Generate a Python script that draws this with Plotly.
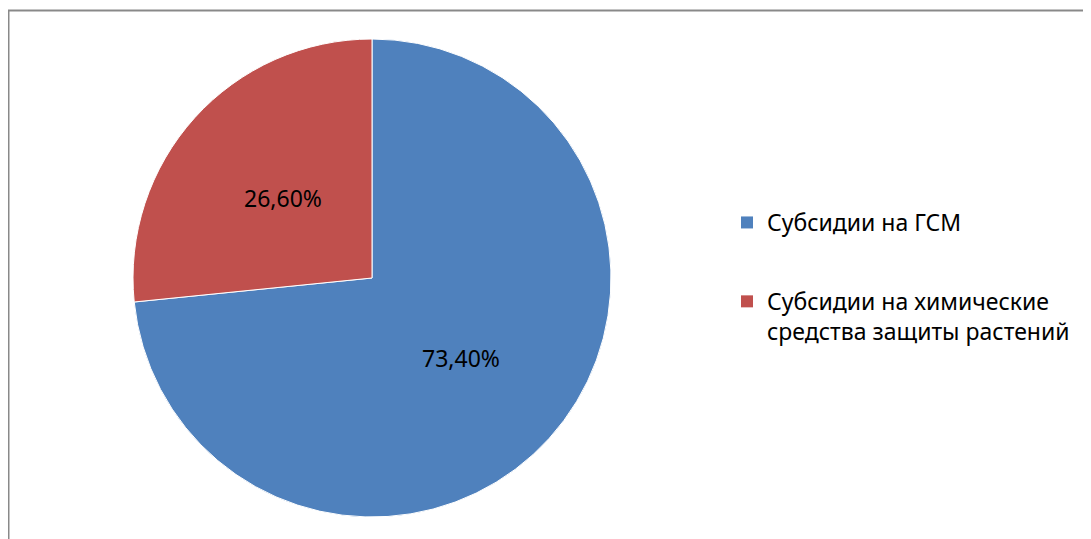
import math
import plotly.graph_objects as go

categories = ["Субсидии на ГСМ", "Субсидии на химические<br>средства защиты растений"]
shares = [0.734, 0.266]
colors = ["#4F81BD", "#C0504D"]

FONT = "Noto Sans"
W, H = 1091, 539
# pie placement (pixels inside the figure)
PIE_L, PIE_R, PIE_T, PIE_B = 125, 603, 31, 509

fig = go.Figure()
fig.add_trace(
    go.Pie(
        labels=categories,
        values=shares,
        sort=False,
        direction="clockwise",
        rotation=0,
        marker=dict(colors=colors, line=dict(color="white", width=1)),
        textinfo="none",
        domain=dict(x=[PIE_L / W, PIE_R / W], y=[1 - PIE_B / H, 1 - PIE_T / H]),
        hoverinfo="label+percent",
        showlegend=False,
    )
)

# data labels placed at half radius along each slice bisector (Excel style)
cx, cy = (PIE_L + PIE_R) / 2, (PIE_T + PIE_B) / 2
r = (PIE_R - PIE_L) / 2
total = sum(shares)
cum = 0.0
annotations = []
for v in shares:
    mid = (cum + v / 2) / total * 2 * math.pi
    cum += v
    px = cx + 0.5 * r * math.sin(mid)
    py = cy - 0.5 * r * math.cos(mid)
    annotations.append(
        dict(
            x=px / W,
            y=1 - py / H,
            xref="paper",
            yref="paper",
            text=f"{v / total * 100:.2f}%".replace(".", ","),
            showarrow=False,
            font=dict(size=23, color="black", family=FONT),
            xanchor="center",
            yanchor="middle",
        )
    )

# legend entries (one group per category so that spacing can be set)
for i, (name, col) in enumerate(zip(categories, colors)):
    fig.add_trace(
        go.Scatter(
            x=[None],
            y=[None],
            mode="markers",
            name=name,
            legendgroup=f"g{i}",
            marker=dict(symbol="square", size=12, color=col),
            hoverinfo="skip",
        )
    )

fig.update_layout(
    width=W,
    height=H,
    margin=dict(l=0, r=0, t=0, b=0),
    paper_bgcolor="white",
    plot_bgcolor="white",
    separators=", ",
    font=dict(family=FONT, size=23, color="black"),
    xaxis=dict(visible=False),
    yaxis=dict(visible=False),
    annotations=annotations,
    legend=dict(
        x=719 / W,
        xanchor="left",
        y=1 - 193 / H,
        yanchor="top",
        font=dict(size=23, color="black", family=FONT),
        itemsizing="trace",
        valign="top",
        tracegroupgap=46,
        bgcolor="rgba(0,0,0,0)",
    ),
    shapes=[
        dict(
            type="rect",
            xref="paper",
            yref="paper",
            x0=0.5 / W,
            x1=1.02,
            y0=-0.02,
            y1=1 - 2.5 / H,
            line=dict(color="#898989", width=2),
            fillcolor="rgba(0,0,0,0)",
        )
    ],
)

fig.write_html("out.html")
